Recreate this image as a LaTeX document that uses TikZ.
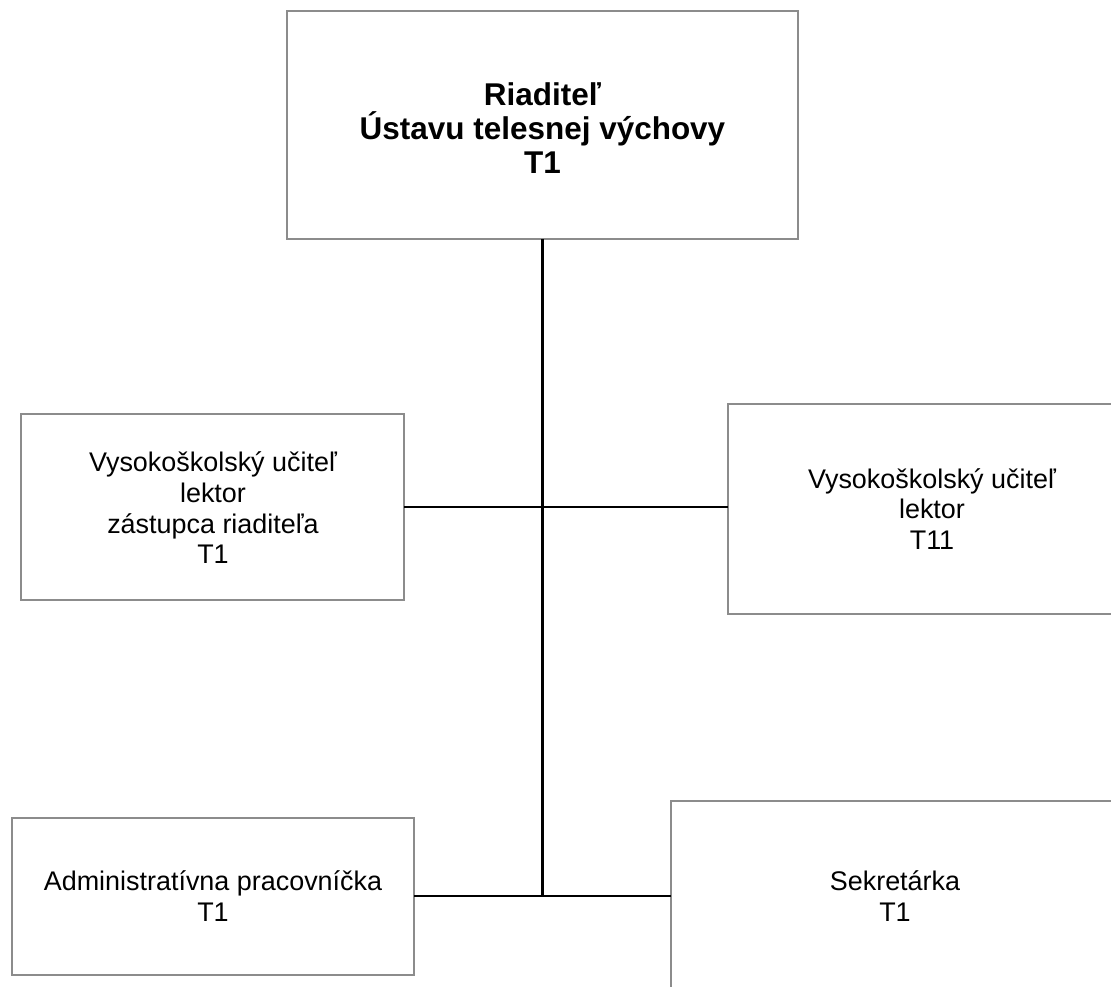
\documentclass[tikz,border=0pt]{standalone}
\usepackage{fontspec}
\setmainfont{Liberation Sans}
\begin{document}
\begin{tikzpicture}[x=0.75pt,y=-0.75pt,
  box/.style={draw=black!45,line width=0.9pt,fill=white},
  txt/.style={align=center,inner sep=0pt,font=\fontsize{20.2}{23}\selectfont},
  btxt/.style={align=center,inner sep=0pt,font=\fontsize{23.6}{25.5}\selectfont\bfseries},
  conn/.style={line width=2.2pt,black}]
\useasboundingbox (0,0) rectangle (1111,987);
% boxes
\path[box] (287,11) rectangle (798,239);
\coordinate (topB) at (542.5,239);
\path[box] (21,414) rectangle (404,600);
\coordinate (lE) at (404,507);
\path[box] (728,404) rectangle (1136,614);
\coordinate (rW) at (728,507);
\path[box] (12,818) rectangle (414,975);
\coordinate (blE) at (414,896);
\path[box] (671,801) rectangle (1119,1000);
\coordinate (brW) at (671,896);
% texts
\node[btxt] (t0) at (542.5,128) {Riaditeľ\\Ústavu telesnej výchovy\\T1};
\node[txt] (t1) at (213,508) {Vysokoškolský učiteľ\\lektor\\zástupca riaditeľa\\T1};
\node[txt] (t2) at (932,509) {Vysokoškolský učiteľ\\lektor\\T11};
\node[txt] (t3) at (213,896) {Administratívna pracovníčka\\T1};
\node[txt] (t4) at (895,896) {Sekretárka\\T1};
% connectors
\coordinate (jB) at (542.5,896);
\draw[conn] (topB) -- (jB);
\draw[conn] (lE) -- (rW);
\draw[conn] (blE) -- (brW);
\end{tikzpicture}
\end{document}
